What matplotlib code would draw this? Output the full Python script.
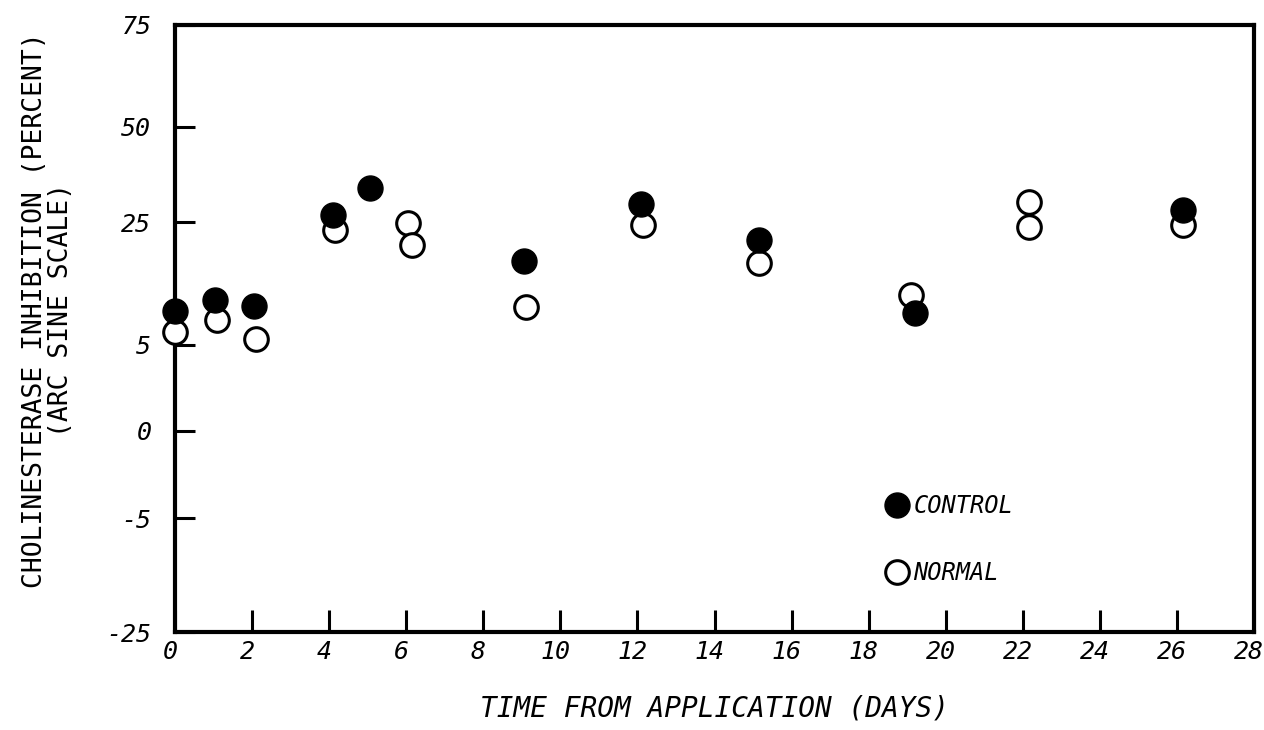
import numpy as np
import matplotlib
matplotlib.use("Agg")
import matplotlib.pyplot as plt
import matplotlib.transforms as mtransforms
from matplotlib.lines import Line2D

# days after application and inhibition (percent), read per treatment
DAYS_CONTROL = [0.0, 1.05, 2.05, 4.1, 5.05, 9.05, 12.1, 15.15, 19.2, 26.15]
PCT_CONTROL = [10.5, 12.3, 11.3, 26.8, 33.9, 18.7, 29.7, 22.1, 10.2, 28.2]

DAYS_NORMAL = [0.0, 1.1, 2.1, 4.15, 6.05, 6.15, 9.1, 12.15, 15.15, 19.1, 22.15, 22.15, 26.15]
PCT_NORMAL = [7.1, 9.1, 6.0, 23.7, 24.9, 21.3, 11.2, 24.5, 18.3, 13.1, 30.3, 24.2, 24.5]

X_TICKS = list(range(0, 29, 2))
Y_TICKS = [75, 50, 25, 5, 0, -5, -25]

# arc sine style axis: spacing of the printed graduations
Y_KNOTS = [-25, -5, 0, 5, 25, 50, 75]
Y_KNOT_POS = [0, 114, 201, 287, 410, 505, 607]


def fwd(v):
    return np.interp(v, Y_KNOTS, Y_KNOT_POS)


def inv(p):
    return np.interp(p, Y_KNOT_POS, Y_KNOTS)


MONO = "DejaVu Sans Mono"

fig = plt.figure(figsize=(12.64, 7.30), dpi=100)
ax = fig.add_axes([175 / 1264, 1 - 632 / 730, (1254 - 175) / 1264, (632 - 25) / 730])

ax.set_yscale("function", functions=(fwd, inv))
ax.set_xlim(0, 28)
ax.set_ylim(-25, 75)

ax.plot(DAYS_NORMAL, PCT_NORMAL, "o", ms=17, mfc="white", mec="black", mew=2.2,
        clip_on=False, zorder=3)
ax.plot(DAYS_CONTROL, PCT_CONTROL, "o", ms=18, mfc="black", mec="black",
        clip_on=False, zorder=4)

for s in ax.spines.values():
    s.set_linewidth(3.0)

ax.set_xticks(X_TICKS)
ax.set_xticklabels([str(t) for t in X_TICKS], fontfamily=MONO, fontstyle="italic", fontsize=18)
ax.set_yticks(Y_TICKS)
ax.set_yticklabels([str(t) for t in Y_TICKS], fontfamily=MONO, fontstyle="italic", fontsize=18)
ax.yaxis.set_minor_locator(matplotlib.ticker.NullLocator())
ax.tick_params(axis="x", direction="in", length=16, width=2.2, pad=6)
ax.tick_params(axis="y", direction="in", length=14.5, width=2.2, pad=17)

# day labels sit a little left of their ticks
shift = mtransforms.ScaledTranslation(-5 / 100, 0, fig.dpi_scale_trans)
for lbl in ax.get_xticklabels():
    lbl.set_transform(lbl.get_transform() + shift)

ax.set_xlabel("TIME FROM APPLICATION (DAYS)", fontfamily=MONO, fontstyle="italic",
              fontsize=20, labelpad=22)
fig.text(0.038, 1 - 310 / 730, "CHOLINESTERASE INHIBITION (PERCENT)\n(ARC SINE SCALE)",
         rotation=90, ha="center", va="center", fontfamily=MONO, fontsize=19,
         linespacing=1.0)

handles = [
    Line2D([], [], ls="none", marker="o", ms=18, mfc="black", mec="black"),
    Line2D([], [], ls="none", marker="o", ms=17, mfc="white", mec="black", mew=2.2),
]
ax.legend(handles, ["CONTROL", "NORMAL"], loc="center left",
          bbox_to_anchor=(0.636, 0.152), frameon=False, handletextpad=0.1,
          handlelength=1.2, labelspacing=1.8, prop={"family": MONO, "style": "italic", "size": 17})

fig.savefig("out.png", dpi=100)
